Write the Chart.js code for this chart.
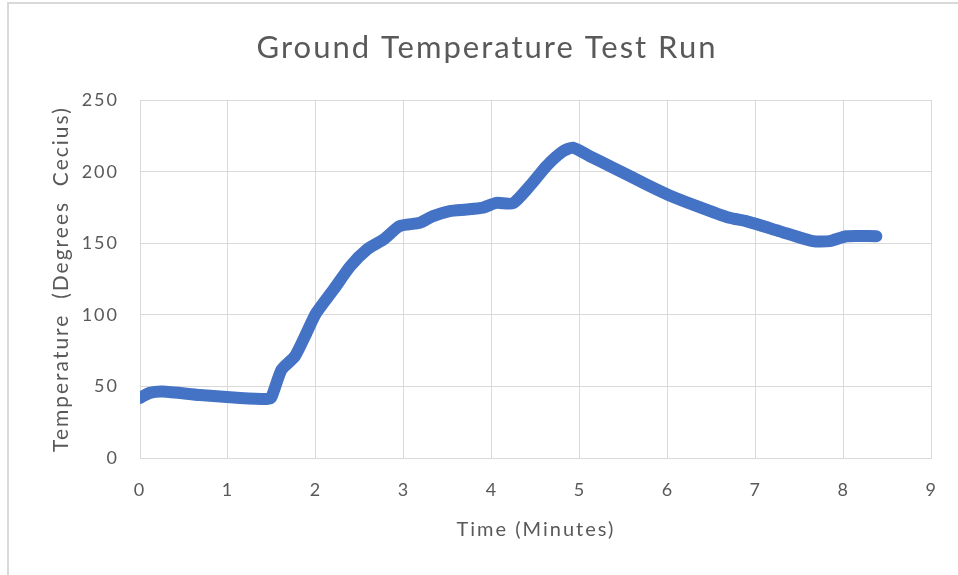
<!DOCTYPE html>
<html>
<head>
<meta charset="utf-8">
<script src="https://cdn.jsdelivr.net/npm/chart.js@4"></script>
<style>
  html, body { margin: 0; padding: 0; background: #fff; }
  #wrap { position: relative; width: 958px; height: 575px; }
  #frame {
    position: absolute; left: 7px; top: 2px; right: 0; bottom: 0;
    border-top: 2px solid #d9d9d9; border-left: 2px solid #d9d9d9;
    pointer-events: none;
  }
</style>
</head>
<body>
<div id="wrap">
  <canvas id="chart" width="958" height="575"></canvas>
  <div id="frame"></div>
</div>
<script>
// Data
const timeMinutes = [0, 0.11, 0.26, 0.68, 1.14, 1.44, 1.49, 1.61, 1.76, 1.89, 2.0, 2.2, 2.39, 2.58, 2.77, 2.95, 3.18, 3.33, 3.52, 3.71, 3.9, 4.05, 4.24, 4.43, 4.62, 4.81, 4.92, 5.11, 5.38, 5.76, 6.0, 6.33, 6.7, 6.89, 7.27, 7.65, 7.84, 8.03, 8.37];
const temperatureC = [42, 45.5, 46.5, 44, 42, 41.3, 42, 61.8, 71, 87, 101, 117.7, 134, 145.7, 152.7, 162, 164.3, 169, 172.5, 173.6, 175, 178.3, 178, 190, 204, 214.4, 216.8, 211, 202.8, 191, 184, 176, 167.8, 165.5, 158.5, 151.5, 151.5, 155, 155];
const xTicks = [0, 1, 2, 3, 4, 5, 6, 7, 8, 9];
const yTicks = [0, 50, 100, 150, 200, 250];

const points = timeMinutes.map((t, i) => ({ x: t, y: temperatureC[i] }));
const textColor = '#595959';
const gridColor = '#d9d9d9';
const font = 'Lato, "Open Sans", sans-serif';

// the reference text is a wide Calibri, so space the letters a bit
const spacing = {
  id: 'spacing',
  beforeDraw(chart) { chart.ctx.letterSpacing = '2px'; }
};

new Chart(document.getElementById('chart'), {
  type: 'line',
  data: {
    datasets: [{
      label: 'Temperature',
      data: points,
      borderColor: '#4472c4',
      borderWidth: 12,
      borderCapStyle: 'round',
      borderJoinStyle: 'round',
      pointRadius: 0,
      tension: 0.2,
      fill: false
    }]
  },
  plugins: [spacing],
  options: {
    responsive: false,
    animation: false,
    layout: { padding: { left: 42, right: 26, top: 0, bottom: 0 } },
    plugins: {
      legend: { display: false },
      tooltip: { enabled: false },
      title: {
        display: true,
        text: 'Ground Temperature Test Run',
        color: textColor,
        font: { family: font, size: 31, weight: 'normal' },
        padding: { top: 29, bottom: 34 }
      }
    },
    scales: {
      x: {
        type: 'linear',
        min: 0,
        max: 9,
        afterBuildTicks: axis => { axis.ticks = xTicks.map(v => ({ value: v })); },
        afterFit: axis => { axis.height = 117; },
        grid: { color: gridColor, drawTicks: false },
        border: { color: gridColor },
        ticks: { color: textColor, font: { family: font, size: 18 }, padding: 21 },
        title: {
          display: true,
          text: 'Time (Minutes)',
          color: textColor,
          font: { family: font, size: 20 },
          padding: { top: 0, bottom: 33 }
        }
      },
      y: {
        min: 0,
        max: 250,
        afterBuildTicks: axis => { axis.ticks = yTicks.map(v => ({ value: v })); },
        afterFit: axis => { axis.width = 98; },
        grid: { color: gridColor, drawTicks: false },
        border: { display: false },
        ticks: { color: textColor, font: { family: font, size: 18 }, padding: 21 },
        title: {
          display: true,
          text: 'Temperature  (Degrees  Cecius)',
          color: textColor,
          font: { family: font, size: 21 },
          padding: { top: 7, bottom: 0 }
        }
      }
    }
  }
});
</script>
</body>
</html>
